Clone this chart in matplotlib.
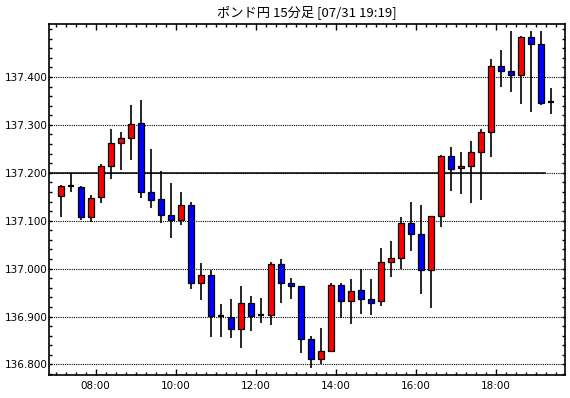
"""GBP/JPY 15-minute candlestick chart (07/31 19:19)."""
import matplotlib
matplotlib.use("Agg")
import matplotlib.pyplot as plt
import matplotlib.ticker as mticker
import numpy as np

TITLE = "ポンド円 15分足 [07/31 19:19]"

# one candle per 15 minutes, first bar starts at 07:00
opens = [137.152, 137.172, 137.171, 137.108, 137.149, 137.214, 137.262, 137.272, 137.304, 137.159,
         137.145, 137.113, 137.102, 137.133, 136.971, 136.986, 136.901, 136.900, 136.873, 136.929,
         136.903, 136.904, 137.009, 136.969, 136.963, 136.854, 136.812, 136.829, 136.965, 136.933,
         136.955, 136.936, 136.933, 137.013, 137.023, 137.095, 137.072, 136.998, 137.109, 137.235,
         137.210, 137.214, 137.243, 137.285, 137.423, 137.413, 137.405, 137.484, 137.469, 137.347]
highs = [137.174, 137.200, 137.172, 137.153, 137.219, 137.291, 137.285, 137.342, 137.353, 137.250,
         137.203, 137.179, 137.159, 137.139, 137.012, 136.997, 136.926, 136.936, 136.963, 136.942,
         136.938, 137.013, 137.020, 136.980, 136.964, 136.860, 136.877, 136.971, 136.971, 136.979,
         137.000, 136.978, 137.043, 137.058, 137.107, 137.139, 137.133, 137.109, 137.237, 137.254,
         137.244, 137.267, 137.291, 137.438, 137.457, 137.497, 137.486, 137.495, 137.497, 137.378]
lows = [137.108, 137.159, 137.101, 137.098, 137.138, 137.187, 137.205, 137.226, 137.148, 137.126,
        137.095, 137.063, 137.092, 136.958, 136.935, 136.857, 136.857, 136.855, 136.835, 136.869,
        136.887, 136.883, 136.929, 136.937, 136.824, 136.792, 136.800, 136.829, 136.898, 136.885,
        136.905, 136.903, 136.922, 136.983, 137.000, 137.037, 136.947, 136.918, 137.087, 137.163,
        137.155, 137.137, 137.144, 137.232, 137.380, 137.369, 137.343, 137.326, 137.341, 137.322]
closes = [137.172, 137.172, 137.108, 137.147, 137.214, 137.262, 137.272, 137.302, 137.159, 137.143,
          137.113, 137.101, 137.133, 136.971, 136.986, 136.901, 136.901, 136.873, 136.929, 136.901,
          136.903, 137.009, 136.971, 136.963, 136.854, 136.812, 136.829, 136.965, 136.933, 136.954,
          136.936, 136.929, 137.013, 137.023, 137.095, 137.072, 136.998, 137.109, 137.235, 137.209,
          137.214, 137.243, 137.285, 137.423, 137.412, 137.405, 137.484, 137.469, 137.346, 137.347]

hour_labels = ["08:00", "10:00", "12:00", "14:00", "16:00", "18:00"]
hour_slots = [4, 12, 20, 28, 36, 44]  # 15-minute slots counted from 07:00
price_levels = [136.8, 136.9, 137.0, 137.1, 137.2, 137.3, 137.4]
ref_level = 137.200

W, H = 570, 398


def main() -> None:
    fig = plt.figure(figsize=(W / 100, H / 100), dpi=100, facecolor="white")
    ax = fig.add_axes([49.3 / W, 1 - 375 / H, (565.3 - 49.3) / W, (375 - 24.3) / H])

    o = np.array(opens)
    h = np.array(highs)
    l = np.array(lows)
    c = np.array(closes)
    x = np.arange(len(o)) + 0.5

    # dotted grid + solid reference line
    for v in price_levels:
        ax.axhline(v, color="black", lw=0.8, ls=(0, (1, 1)), zorder=1)
    ax.plot([-0.64, 48.9], [ref_level, ref_level], color="black", lw=1.1, zorder=1.5)

    ax.vlines(x, l, h, color="black", lw=1.2, zorder=2)
    up = c > o
    dn = c < o
    eq = c == o
    bw = 0.62
    ax.bar(x[up], (c - o)[up], bottom=o[up], width=bw, color="#ff0000",
           edgecolor="black", linewidth=0.9, zorder=3)
    ax.bar(x[dn], (o - c)[dn], bottom=c[dn], width=bw, color="#0000ff",
           edgecolor="black", linewidth=0.9, zorder=3)
    ax.hlines(o[eq], x[eq] - bw / 2, x[eq] + bw / 2, color="black", lw=1.6, zorder=3)

    ax.set_xlim(-0.64, 50.96)
    ax.set_ylim(136.778, 137.510)

    ax.xaxis.set_major_locator(mticker.FixedLocator(hour_slots))
    ax.xaxis.set_major_formatter(mticker.FixedFormatter(hour_labels))
    ax.xaxis.set_minor_locator(mticker.MultipleLocator(1))
    ax.yaxis.set_major_locator(mticker.FixedLocator(price_levels))
    ax.yaxis.set_major_formatter(mticker.FormatStrFormatter("%.3f"))
    ax.yaxis.set_minor_locator(mticker.MultipleLocator(0.02))

    ax.tick_params(axis="x", which="major", direction="in", top=True, bottom=True,
                   length=4, width=1, labelsize=7.5, pad=4)
    ax.tick_params(axis="x", which="minor", direction="in", top=True, bottom=True,
                   length=2, width=1)
    ax.tick_params(axis="y", which="both", direction="in", left=True, right=True,
                   length=2.5, width=1, labelsize=7.5, pad=1.5)
    for sp in ax.spines.values():
        sp.set_linewidth(1.2)
        sp.set_color("black")

    fig.text(307.3 / W, 1 - 12 / H, TITLE, ha="center", va="center", fontsize=9.5,
             family=["Noto Sans CJK JP", "DejaVu Sans"])

    fig.savefig("out.png", dpi=100, facecolor="white")
    plt.close(fig)


if __name__ == "__main__":
    main()
